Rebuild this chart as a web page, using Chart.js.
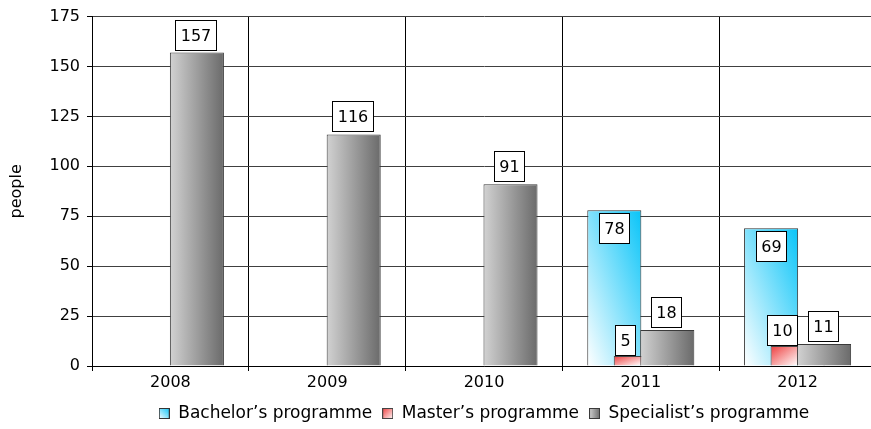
<!DOCTYPE html>
<html>
<head>
<meta charset="utf-8">
<script src="https://cdn.jsdelivr.net/npm/chart.js@4.4.1/dist/chart.umd.min.js"></script>
<style>
  html, body { margin: 0; padding: 0; background: #fff; overflow: hidden; }
  canvas { display: block; }
</style>
</head>
<body>
<canvas id="chart" width="876" height="429"></canvas>
<script>
// data
const years = ['2008', '2009', '2010', '2011', '2012'];
const bachelor = [null, null, null, 78, 69];
const master = [null, null, null, 5, 10];
const specialist = [157, 116, 91, 18, 11];
const yMin = 0, yMax = 175, yStep = 25;

const FONT = '"DejaVu Sans", Verdana, sans-serif';

// diagonal gradient normalized to a box (like the office "linear diagonal" fill)
function boxGradient(ctx, left, top, w, h, corner, c0, c1) {
    const k = 2 / (1 / (w * w) + 1 / (h * h));
    let x0 = left, y0 = top, dx = k / w, dy = k / h;
    if (corner === 'bl') { y0 = top + h; dy = -dy; }
    const g = ctx.createLinearGradient(x0, y0, x0 + dx, y0 + dy);
    g.addColorStop(0, c0);
    g.addColorStop(1, c1);
    return g;
}

function grayGradient(ctx, l, t, w, h) {
    const g = ctx.createLinearGradient(l, 0, l + w, 0);
    g.addColorStop(0, '#d2d2d2');
    g.addColorStop(1, '#6a6a6a');
    return g;
}

// how each series gets filled and labelled
const seriesStyle = [
    { fill: (ctx, l, t, w, h) => boxGradient(ctx, l, t, w, h, 'bl', '#ffffff', '#08c4f8'), label: 'inside', border: '#333333' },
    { fill: (ctx, l, t, w, h) => boxGradient(ctx, l, t, w / 2, h, 'tl', '#ee3c3c', '#ffffff'), label: 'leftHalf', border: '#444444' },
    { fill: grayGradient, label: 'above', border: '#3a3a3a' }
];

// small swatches for the legend, same fills as the bars
function makeSwatch(i) {
    const c = document.createElement('canvas');
    c.width = 11; c.height = 11;
    const x = c.getContext('2d');
    x.fillStyle = i === 1 ? boxGradient(x, 0, 0, 11, 11, 'tl', '#ee3c3c', '#ffffff') : seriesStyle[i].fill(x, 0, 0, 11, 11);
    x.fillRect(0, 0, 11, 11);
    x.strokeStyle = seriesStyle[i].border;
    x.lineWidth = 1;
    x.strokeRect(0.5, 0.5, 10, 10);
    return c;
}
const swatches = [0, 1, 2].map(makeSwatch);

// draws the bars in dataset order (so later series sit on top) and then the value boxes
const barPainter = {
    id: 'barPainter',
    beforeDatasetsDraw(chart) {
        const ctx = chart.ctx;
        const boxes = [];
        chart.data.datasets.forEach((ds, i) => {
            const meta = chart.getDatasetMeta(i);
            meta.data.forEach((bar, j) => {
                const v = ds.data[j];
                if (v === null || v === undefined) return;
                const left = bar.x - bar.width / 2;
                const h = bar.base - bar.y;
                const opts = Object.assign({}, bar.options);
                opts.backgroundColor = seriesStyle[i].fill(ctx, left, bar.y, bar.width, h);
                bar.options = opts;
                bar.draw(ctx, chart.chartArea);
                boxes.push({ v, bar, kind: seriesStyle[i].label });
            });
        });

        ctx.save();
        ctx.font = '16px ' + FONT;
        ctx.textAlign = 'center';
        ctx.textBaseline = 'middle';
        boxes.forEach(({ v, bar, kind }) => {
            const txt = String(v);
            const w = Math.round(ctx.measureText(txt).width + 10);
            const h = 30;
            let cx, top;
            if (kind === 'inside') {
                cx = bar.x;
                top = bar.y + 3;
            } else if (kind === 'leftHalf') {
                cx = bar.x - bar.width / 4 - 2;
                top = bar.y - 1 - h;
            } else {
                cx = bar.x - 1.5;
                top = bar.y - 3 - h;
            }
            const x = Math.round(cx - w / 2) + 0.5;
            const y = Math.round(top) + 0.5;
            ctx.fillStyle = '#ffffff';
            ctx.fillRect(x, y, w, h);
            ctx.strokeStyle = '#000000';
            ctx.lineWidth = 1;
            ctx.strokeRect(x, y, w, h);
            ctx.fillStyle = '#000000';
            ctx.fillText(txt, x + w / 2, y + h / 2 + 1);
        });
        ctx.restore();
        return false;
    },
    afterInit(chart) {
        // fixed legend height so the plot bottom lands where it should
        const legend = chart.legend;
        if (legend) {
            const fit = legend.fit;
            legend.fit = function () { fit.call(this); this.height = 34; };
        }
    },
    afterLayout(chart) {
        // legend centred under the plot area, not the whole canvas
        if (chart.legend) {
            chart.legend.left = chart.chartArea.left;
            chart.legend.right = chart.chartArea.right;
        }
    }
};

new Chart(document.getElementById('chart'), {
    type: 'bar',
    data: {
        labels: years,
        datasets: [
            { label: 'Bachelor’s programme', data: bachelor, backgroundColor: '#8fdcf8', borderColor: '#333333', borderWidth: 1 },
            { label: 'Master’s programme', data: master, backgroundColor: '#f7a3a3', borderColor: '#444444', borderWidth: 1 },
            { label: 'Specialist’s programme', data: specialist, backgroundColor: '#a0a0a0', borderColor: '#3a3a3a', borderWidth: 1 }
        ]
    },
    options: {
        responsive: false,
        animation: false,
        categoryPercentage: 0.507,
        barPercentage: 2.04,
        layout: { padding: { top: 16, left: 0, right: 0, bottom: 0 } },
        scales: {
            x: {
                grid: { offset: true, color: '#000000', tickLength: 5, tickColor: '#000000' },
                border: { color: '#000000' },
                ticks: { color: '#000000', font: { family: FONT, size: 16 }, padding: 2 },
                afterFit(scale) { scale.height = 29; }
            },
            y: {
                min: yMin,
                max: yMax,
                ticks: { stepSize: yStep, color: '#000000', font: { family: FONT, size: 16 }, padding: 7 },
                grid: { color: '#404040', tickLength: 5, tickColor: '#000000' },
                border: { color: '#000000' },
                title: { display: true, text: 'people', color: '#000000', font: { family: FONT, size: 16 }, padding: { top: 7, bottom: 0 } },
                afterFit(scale) { scale.width = 92; }
            }
        },
        plugins: {
            legend: {
                position: 'bottom',
                labels: {
                    color: '#000000',
                    font: { family: FONT, size: 17 },
                    usePointStyle: true,
                    boxWidth: 11,
                    boxHeight: 11,
                    padding: 10,
                    generateLabels(chart) {
                        const items = Chart.defaults.plugins.legend.labels.generateLabels(chart);
                        items.forEach((it, i) => { it.pointStyle = swatches[i]; });
                        return items;
                    }
                }
            },
            tooltip: { enabled: false }
        }
    },
    plugins: [barPainter]
});
</script>
</body>
</html>
